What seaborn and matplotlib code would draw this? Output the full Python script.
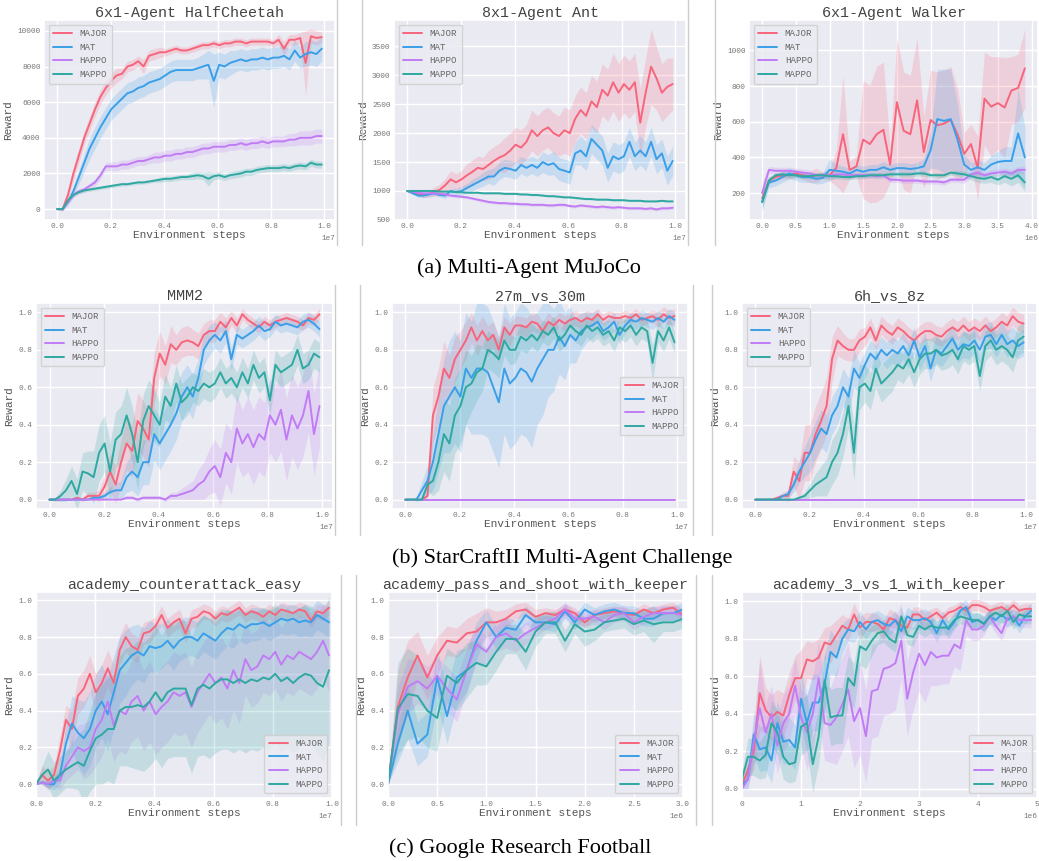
import numpy as np
import pandas as pd
import matplotlib
matplotlib.use('Agg')
import matplotlib.pyplot as plt
from matplotlib.lines import Line2D
import seaborn as sns

algos = ['MAJOR', 'MAT', 'HAPPO', 'MAPPO']
palette = {'MAJOR': '#f7657c', 'MAT': '#3a9fe8', 'HAPPO': '#c17cf5', 'MAPPO': '#2ea8a1'}

# ---------------- (a) Multi-Agent MuJoCo ----------------
cheetah_steps = np.linspace(0, 0.99e7, 50)
cheetah_major = [0, 0, 800, 2000, 3000, 4000, 4800, 5600, 6300, 6800,
                 7200, 7500, 7600, 8000, 8100, 8300, 8000, 8600, 8700, 8800,
                 8800, 8900, 9000, 8900, 8900, 9000, 9100, 9200, 9200, 9300,
                 9200, 9300, 9300, 9400, 9400, 9300, 9400, 9400, 9400, 9400,
                 9300, 9500, 9000, 9500, 9500, 9600, 8200, 9700, 9600, 9650]
cheetah_major_sd = [0, 100, 300, 400, 400, 400, 400, 400, 400, 400,
                    400, 400, 300, 300, 300, 300, 400, 300, 300, 300,
                    200, 200, 200, 200, 200, 200, 200, 200, 200, 200,
                    200, 200, 200, 200, 200, 200, 200, 200, 200, 200,
                    200, 300, 400, 300, 300, 300, 1800, 400, 400, 300]
cheetah_mat = [0, 0, 400, 1000, 1800, 2600, 3400, 4000, 4600, 5100,
               5600, 5900, 6200, 6500, 6600, 6800, 6900, 7100, 7200, 7300,
               7500, 7700, 7800, 7800, 7800, 7800, 7900, 8000, 8100, 7200,
               8100, 8000, 8200, 8300, 8400, 8300, 8400, 8400, 8500, 8400,
               8500, 8500, 8600, 8400, 8900, 8500, 8700, 8800, 8700, 9000]
cheetah_mat_sd = [0, 100, 200, 300, 400, 500, 600, 600, 600, 600,
                  600, 600, 600, 600, 600, 600, 600, 600, 600, 600,
                  600, 600, 600, 600, 600, 600, 600, 700, 800, 1500,
                  700, 700, 700, 600, 600, 600, 600, 600, 600, 600,
                  600, 600, 600, 600, 600, 600, 700, 700, 700, 700]
cheetah_happo = [0, 0, 400, 800, 1000, 1100, 1300, 1500, 1900, 2400,
                 2400, 2400, 2500, 2500, 2600, 2700, 2700, 2800, 2900, 2900,
                 3000, 3000, 3100, 3100, 3200, 3200, 3300, 3400, 3400, 3500,
                 3500, 3500, 3600, 3600, 3700, 3600, 3700, 3700, 3800, 3700,
                 3800, 3800, 3800, 3900, 3900, 4000, 4000, 4000, 4100, 4100]
cheetah_happo_sd = [0, 50, 100, 150, 150, 150, 150, 200, 200, 200,
                    250, 250, 250, 250, 250, 250, 250, 250, 300, 300,
                    300, 300, 300, 300, 300, 300, 300, 300, 300, 300,
                    300, 300, 300, 300, 300, 300, 300, 300, 300, 300,
                    300, 300, 300, 350, 350, 400, 400, 400, 400, 400]
cheetah_mappo = [0, 0, 500, 800, 950, 1050, 1100, 1150, 1200, 1250,
                 1300, 1350, 1400, 1400, 1450, 1500, 1500, 1550, 1600, 1650,
                 1700, 1700, 1750, 1800, 1800, 1850, 1900, 1850, 1700, 1850,
                 1900, 1800, 1900, 1950, 2000, 2100, 2100, 2200, 2250, 2300,
                 2300, 2300, 2350, 2300, 2400, 2450, 2400, 2600, 2500, 2500]
cheetah_mappo_sd = [0, 50, 100, 100, 100, 100, 100, 100, 100, 100,
                    100, 100, 100, 100, 100, 100, 100, 100, 100, 150,
                    150, 150, 150, 150, 150, 200, 200, 200, 400, 200,
                    200, 200, 200, 200, 200, 200, 200, 200, 200, 200,
                    200, 200, 200, 200, 200, 200, 200, 200, 200, 200]

ant_steps = np.linspace(0, 0.99e7, 50)
ant_major = [1000, 980, 940, 930, 950, 990, 1020, 1100, 1200, 1150,
             1200, 1270, 1330, 1400, 1380, 1450, 1520, 1580, 1620, 1700,
             1800, 1750, 1850, 2050, 1950, 2050, 2100, 2000, 1950, 2050,
             2000, 2250, 2400, 2300, 2550, 2450, 2750, 2650, 2880, 2700,
             2850, 2750, 2880, 2180, 2700, 3150, 2950, 2700, 2800, 2850]
ant_major_sd = [0, 20, 30, 40, 60, 80, 100, 120, 150, 150,
                150, 200, 200, 200, 200, 250, 250, 250, 300, 300,
                300, 300, 300, 350, 350, 350, 350, 350, 350, 400,
                400, 400, 400, 400, 450, 450, 450, 450, 500, 500,
                500, 500, 500, 600, 600, 650, 550, 500, 500, 450]
ant_mat = [1000, 960, 920, 920, 940, 960, 930, 920, 1000, 980,
           1000, 1050, 1100, 1150, 1200, 1250, 1250, 1350, 1400, 1380,
           1350, 1450, 1400, 1450, 1400, 1500, 1450, 1480, 1380, 1350,
           1320, 1650, 1700, 1600, 1900, 1800, 1700, 1400, 1600, 1550,
           1600, 1850, 1600, 1700, 1600, 1850, 1550, 1650, 1350, 1520]
ant_mat_sd = [0, 20, 30, 40, 40, 40, 40, 50, 50, 60,
              80, 80, 100, 100, 120, 120, 150, 150, 150, 150,
              150, 150, 150, 150, 150, 180, 180, 200, 200, 200,
              200, 200, 250, 250, 250, 250, 250, 250, 250, 250,
              250, 250, 250, 250, 250, 250, 250, 250, 250, 250]
ant_happo = [1000, 990, 970, 960, 960, 960, 950, 940, 920, 910,
             900, 890, 870, 850, 830, 810, 800, 790, 790, 780,
             780, 770, 770, 760, 760, 760, 750, 750, 760, 760,
             740, 730, 750, 740, 730, 720, 730, 720, 710, 720,
             710, 700, 700, 700, 690, 700, 680, 700, 700, 710]
ant_happo_sd = [25] * 50
ant_mappo = [1000, 1000, 1000, 1000, 1000, 1000, 990, 990, 990, 980,
             980, 970, 970, 970, 960, 960, 960, 960, 950, 950,
             950, 940, 940, 930, 930, 920, 910, 910, 900, 890,
             890, 880, 870, 860, 860, 850, 850, 850, 840, 840,
             840, 830, 830, 830, 820, 820, 820, 830, 820, 820]
ant_mappo_sd = [15] * 50

walker_steps = np.arange(40) * 1e5
walker_major = [170, 270, 290, 300, 300, 310, 300, 290, 300, 300,
                300, 340, 530, 330, 350, 500, 475, 530, 555, 360,
                710, 550, 530, 720, 430, 610, 580, 590, 610, 530,
                420, 475, 340, 730, 685, 705, 680, 775, 790, 900]
walker_major_sd = [20, 20, 20, 20, 20, 20, 20, 30, 40, 20,
                   30, 100, 330, 50, 60, 330, 330, 380, 380, 100,
                   360, 330, 330, 350, 200, 280, 300, 300, 300, 260,
                   120, 110, 180, 260, 280, 260, 280, 190, 190, 220]
walker_mat = [150, 260, 270, 290, 310, 300, 290, 290, 280, 285,
              330, 325, 320, 310, 330, 320, 330, 330, 345, 330,
              340, 340, 335, 340, 350, 440, 615, 605, 615, 500,
              360, 330, 345, 330, 360, 375, 380, 380, 535, 400]
walker_mat_sd = [40, 30, 30, 30, 30, 30, 30, 30, 30, 30,
                 60, 40, 30, 30, 30, 30, 30, 30, 30, 30,
                 30, 30, 30, 30, 40, 100, 280, 290, 280, 200,
                 60, 40, 40, 40, 50, 60, 80, 80, 250, 170]
walker_happo = [200, 330, 325, 325, 325, 320, 315, 310, 300, 300,
                300, 305, 305, 300, 300, 300, 300, 295, 300, 275,
                275, 270, 270, 270, 265, 265, 265, 260, 275, 275,
                275, 305, 315, 300, 310, 315, 320, 310, 330, 330]
walker_happo_sd = [60, 20, 20, 20, 20, 20, 20, 20, 15, 15,
                   15, 15, 15, 15, 15, 15, 15, 15, 15, 15,
                   15, 15, 15, 15, 15, 15, 15, 15, 15, 15,
                   20, 20, 20, 20, 20, 20, 20, 20, 20, 20]
walker_mappo = [150, 270, 300, 305, 300, 300, 295, 295, 300, 300,
                295, 295, 290, 290, 295, 295, 300, 300, 300, 305,
                305, 305, 305, 310, 310, 300, 300, 300, 315, 310,
                305, 295, 285, 280, 290, 275, 295, 280, 300, 260]
walker_mappo_sd = [50, 20, 15, 15, 15, 15, 15, 15, 15, 15,
                   15, 15, 15, 15, 15, 15, 15, 15, 15, 15,
                   15, 15, 15, 15, 15, 15, 15, 15, 15, 15,
                   20, 20, 25, 25, 30, 30, 35, 40, 40, 50]

# ---------------- (b) StarCraftII ----------------
smac_steps = np.linspace(0, 0.99e7, 50)
mmm2_major = [0, 0, 0, 0, 0, 0.01, 0.0, 0.02, 0.02, 0.02,
              0.07, 0.15, 0.08, 0.2, 0.3, 0.26, 0.42, 0.38, 0.32, 0.65,
              0.78, 0.72, 0.83, 0.8, 0.84, 0.85, 0.84, 0.82, 0.88, 0.9,
              0.9, 0.95, 0.92, 0.97, 0.93, 0.99, 0.96, 0.94, 0.92, 0.95,
              0.93, 0.95, 0.96, 0.97, 0.96, 0.95, 0.93, 0.97, 0.96, 0.99]
mmm2_major_sd = [0, 0, 0, 0, 0, 0.01, 0.01, 0.02, 0.02, 0.03,
                 0.06, 0.1, 0.1, 0.12, 0.14, 0.14, 0.15, 0.15, 0.15, 0.14,
                 0.12, 0.1, 0.1, 0.08, 0.08, 0.08, 0.07, 0.07, 0.06, 0.06,
                 0.06, 0.05, 0.05, 0.04, 0.04, 0.03, 0.03, 0.03, 0.03, 0.03,
                 0.03, 0.03, 0.03, 0.03, 0.03, 0.03, 0.03, 0.03, 0.03, 0.03]
mmm2_mat = [0, 0, 0, 0, 0, 0, 0, 0, 0.01, 0.01,
            0.02, 0.04, 0.05, 0.05, 0.12, 0.15, 0.12, 0.2, 0.2, 0.35,
            0.3, 0.35, 0.4, 0.46, 0.55, 0.6, 0.55, 0.65, 0.8, 0.85,
            0.88, 0.85, 0.9, 0.75, 0.88, 0.86, 0.88, 0.9, 0.93, 0.9,
            0.91, 0.95, 0.93, 0.94, 0.93, 0.92, 0.95, 0.96, 0.94, 0.91]
mmm2_mat_sd = [0, 0, 0, 0, 0, 0, 0, 0, 0.01, 0.01,
               0.02, 0.03, 0.04, 0.05, 0.08, 0.1, 0.1, 0.12, 0.12, 0.14,
               0.14, 0.14, 0.14, 0.14, 0.13, 0.12, 0.12, 0.1, 0.08, 0.08,
               0.07, 0.07, 0.06, 0.06, 0.05, 0.05, 0.05, 0.05, 0.05, 0.05,
               0.04, 0.04, 0.04, 0.04, 0.04, 0.04, 0.04, 0.04, 0.04, 0.04]
mmm2_happo = [0, 0, 0, 0, 0, 0, 0, 0, 0, 0,
              0, 0, 0, 0, 0.01, 0.01, 0.0, 0.01, 0.01, 0.01,
              0.01, 0.0, 0.02, 0.02, 0.03, 0.04, 0.05, 0.08, 0.1, 0.15,
              0.18, 0.12, 0.25, 0.2, 0.38, 0.3, 0.35, 0.28, 0.35, 0.32,
              0.45, 0.4, 0.48, 0.32, 0.45, 0.38, 0.45, 0.58, 0.35, 0.5]
mmm2_happo_sd = [0, 0, 0, 0, 0, 0, 0, 0, 0, 0,
                 0, 0, 0, 0, 0.01, 0.01, 0.01, 0.01, 0.01, 0.01,
                 0.01, 0.01, 0.02, 0.02, 0.03, 0.04, 0.05, 0.08, 0.1, 0.12,
                 0.14, 0.15, 0.16, 0.17, 0.18, 0.18, 0.2, 0.2, 0.2, 0.2,
                 0.2, 0.2, 0.22, 0.22, 0.22, 0.22, 0.22, 0.22, 0.22, 0.22]
mmm2_mappo = [0, 0, 0.02, 0.05, 0.1, 0.03, 0.15, 0.14, 0.12, 0.25,
              0.3, 0.15, 0.32, 0.35, 0.45, 0.35, 0.2, 0.42, 0.5, 0.45,
              0.4, 0.55, 0.5, 0.62, 0.52, 0.55, 0.6, 0.58, 0.62, 0.6,
              0.62, 0.68, 0.62, 0.65, 0.6, 0.68, 0.62, 0.72, 0.65, 0.68,
              0.53, 0.72, 0.68, 0.7, 0.72, 0.8, 0.7, 0.72, 0.78, 0.76]
mmm2_mappo_sd = [0, 0.01, 0.03, 0.06, 0.08, 0.08, 0.1, 0.12, 0.14, 0.15,
                 0.15, 0.15, 0.15, 0.15, 0.15, 0.15, 0.15, 0.14, 0.14, 0.14,
                 0.12, 0.12, 0.1, 0.1, 0.1, 0.1, 0.08, 0.08, 0.08, 0.08,
                 0.08, 0.08, 0.08, 0.08, 0.08, 0.08, 0.08, 0.08, 0.08, 0.08,
                 0.08, 0.08, 0.08, 0.08, 0.08, 0.08, 0.08, 0.08, 0.08, 0.08]

m27_major = [0, 0, 0, 0, 0.02, 0.45, 0.55, 0.7, 0.65, 0.75,
             0.8, 0.85, 0.92, 0.85, 0.9, 0.85, 0.88, 0.8, 0.92, 0.88,
             0.93, 0.93, 0.92, 0.95, 0.94, 0.9, 0.95, 0.93, 0.96, 0.94,
             0.96, 0.97, 0.95, 0.97, 0.96, 0.99, 0.96, 0.98, 0.97, 0.97,
             0.98, 0.97, 0.99, 0.96, 0.97, 0.98, 0.96, 0.99, 0.97, 0.98]
m27_major_sd = [0, 0, 0, 0, 0.02, 0.15, 0.15, 0.15, 0.12, 0.12,
                0.1, 0.1, 0.08, 0.08, 0.08, 0.08, 0.07, 0.07, 0.06, 0.06,
                0.05, 0.05, 0.05, 0.05, 0.05, 0.05, 0.05, 0.04, 0.04, 0.04,
                0.04, 0.04, 0.04, 0.04, 0.04, 0.03, 0.03, 0.03, 0.03, 0.03,
                0.03, 0.03, 0.03, 0.03, 0.03, 0.03, 0.04, 0.04, 0.04, 0.04]
m27_mat = [0, 0, 0, 0.05, 0.1, 0.2, 0.35, 0.5, 0.55, 0.6,
           0.55, 0.7, 0.65, 0.7, 0.7, 0.68, 0.6, 0.52, 0.7, 0.62,
           0.65, 0.7, 0.68, 0.63, 0.7, 0.75, 0.8, 0.8, 0.87, 0.82,
           0.88, 0.85, 0.9, 0.92, 0.93, 0.95, 0.9, 0.92, 0.95, 0.88,
           0.93, 0.96, 0.95, 0.97, 0.96, 0.95, 0.97, 0.95, 0.98, 0.96]
m27_mat_sd = [0, 0, 0.01, 0.05, 0.08, 0.15, 0.2, 0.25, 0.3, 0.3,
              0.3, 0.3, 0.3, 0.35, 0.35, 0.35, 0.35, 0.35, 0.35, 0.35,
              0.35, 0.35, 0.35, 0.35, 0.3, 0.3, 0.25, 0.22, 0.2, 0.18,
              0.15, 0.12, 0.1, 0.08, 0.07, 0.06, 0.05, 0.05, 0.05, 0.05,
              0.04, 0.04, 0.04, 0.04, 0.04, 0.04, 0.04, 0.04, 0.04, 0.04]
m27_happo = [0.0] * 50
m27_happo_sd = [0.0] * 50
m27_mappo = [0, 0, 0, 0, 0.08, 0.1, 0.2, 0.35, 0.3, 0.45,
             0.5, 0.6, 0.62, 0.68, 0.7, 0.8, 0.78, 0.75, 0.85, 0.8,
             0.8, 0.87, 0.85, 0.88, 0.85, 0.9, 0.88, 0.92, 0.85, 0.88,
             0.93, 0.9, 0.88, 0.93, 0.9, 0.92, 0.88, 0.9, 0.85, 0.92,
             0.9, 0.93, 0.88, 0.92, 0.9, 0.73, 0.9, 0.85, 0.92, 0.84]
m27_mappo_sd = [0, 0, 0, 0, 0.03, 0.08, 0.15, 0.2, 0.2, 0.2,
                0.2, 0.2, 0.15, 0.15, 0.12, 0.1, 0.1, 0.1, 0.08, 0.08,
                0.07, 0.07, 0.07, 0.06, 0.06, 0.06, 0.06, 0.06, 0.06, 0.06,
                0.06, 0.06, 0.06, 0.06, 0.06, 0.06, 0.06, 0.06, 0.06, 0.06,
                0.06, 0.06, 0.06, 0.06, 0.06, 0.1, 0.06, 0.06, 0.06, 0.06]

h6_major = [0, 0, 0, 0, 0.01, 0.02, 0.02, 0.15, 0.1, 0.25,
            0.25, 0.35, 0.42, 0.5, 0.75, 0.85, 0.82, 0.8, 0.8, 0.85,
            0.87, 0.92, 0.85, 0.93, 0.9, 0.88, 0.92, 0.9, 0.87, 0.85,
            0.88, 0.9, 0.9, 0.88, 0.87, 0.9, 0.92, 0.9, 0.93, 0.9,
            0.92, 0.9, 0.93, 0.9, 0.92, 0.95, 0.93, 0.98, 0.95, 0.94]
h6_major_sd = [0, 0, 0, 0, 0.01, 0.02, 0.03, 0.08, 0.1, 0.15,
               0.15, 0.15, 0.15, 0.15, 0.12, 0.08, 0.07, 0.06, 0.06, 0.06,
               0.05, 0.05, 0.05, 0.05, 0.05, 0.05, 0.05, 0.05, 0.05, 0.05,
               0.05, 0.05, 0.05, 0.05, 0.05, 0.05, 0.05, 0.05, 0.05, 0.05,
               0.05, 0.05, 0.05, 0.05, 0.05, 0.05, 0.05, 0.05, 0.05, 0.05]
h6_mat = [0, 0, 0, 0, 0, 0.02, 0.03, 0.08, 0.15, 0.2,
          0.25, 0.32, 0.38, 0.35, 0.45, 0.5, 0.6, 0.55, 0.7, 0.65,
          0.72, 0.78, 0.75, 0.8, 0.77, 0.8, 0.78, 0.82, 0.77, 0.85,
          0.76, 0.82, 0.7, 0.8, 0.78, 0.82, 0.86, 0.8, 0.83, 0.82,
          0.85, 0.8, 0.87, 0.88, 0.83, 0.88, 0.83, 0.85, 0.82, 0.84]
h6_mat_sd = [0, 0, 0, 0, 0, 0.01, 0.02, 0.04, 0.06, 0.08,
             0.1, 0.1, 0.1, 0.1, 0.1, 0.1, 0.1, 0.1, 0.1, 0.08,
             0.07, 0.07, 0.07, 0.07, 0.07, 0.07, 0.07, 0.07, 0.07, 0.07,
             0.07, 0.07, 0.07, 0.07, 0.07, 0.07, 0.07, 0.07, 0.07, 0.07,
             0.07, 0.07, 0.07, 0.07, 0.07, 0.07, 0.07, 0.07, 0.07, 0.07]
h6_happo = [0.0] * 50
h6_happo_sd = [0.0] * 50
h6_mappo = [0, 0, 0, 0, 0, 0, 0, 0, 0.01, 0.02,
            0.05, 0.08, 0.1, 0.12, 0.2, 0.25, 0.35, 0.5, 0.25, 0.6,
            0.62, 0.58, 0.7, 0.62, 0.65, 0.68, 0.72, 0.7, 0.75, 0.68,
            0.75, 0.78, 0.78, 0.8, 0.77, 0.78, 0.8, 0.75, 0.82, 0.8,
            0.82, 0.66, 0.82, 0.85, 0.8, 0.82, 0.8, 0.76, 0.85, 0.87]
h6_mappo_sd = [0, 0, 0, 0, 0, 0, 0, 0, 0.01, 0.02,
               0.04, 0.06, 0.08, 0.1, 0.12, 0.12, 0.12, 0.12, 0.15, 0.12,
               0.1, 0.1, 0.1, 0.1, 0.1, 0.1, 0.08, 0.08, 0.08, 0.08,
               0.08, 0.08, 0.08, 0.08, 0.08, 0.08, 0.08, 0.08, 0.08, 0.08,
               0.08, 0.08, 0.08, 0.08, 0.08, 0.08, 0.08, 0.08, 0.08, 0.08]

# ---------------- (c) Google Research Football ----------------
ca_steps = np.linspace(0, 0.99e7, 50)
ca_major = [0, 0.05, 0.02, 0.05, 0.18, 0.35, 0.3, 0.48, 0.52, 0.6,
            0.5, 0.55, 0.63, 0.55, 0.73, 0.8, 0.75, 0.73, 0.82, 0.83,
            0.86, 0.92, 0.85, 0.88, 0.9, 0.82, 0.9, 0.91, 0.94, 0.93,
            0.9, 0.93, 0.92, 0.94, 0.96, 0.92, 0.94, 0.93, 0.91, 0.94,
            0.92, 0.95, 0.94, 0.93, 0.95, 0.94, 0.89, 0.94, 0.93, 0.96]
ca_major_sd = [0, 0.05, 0.05, 0.05, 0.08, 0.08, 0.1, 0.1, 0.1, 0.1,
               0.1, 0.1, 0.1, 0.1, 0.08, 0.08, 0.07, 0.07, 0.06, 0.06,
               0.05, 0.05, 0.05, 0.05, 0.05, 0.05, 0.05, 0.05, 0.04, 0.04,
               0.04, 0.04, 0.04, 0.04, 0.04, 0.04, 0.04, 0.04, 0.04, 0.04,
               0.04, 0.04, 0.04, 0.04, 0.04, 0.04, 0.04, 0.04, 0.04, 0.04]
ca_mat = [0, 0.01, 0, 0, 0.05, 0.22, 0.33, 0.28, 0.25, 0.3,
          0.4, 0.45, 0.38, 0.5, 0.62, 0.66, 0.7, 0.72, 0.7, 0.75,
          0.74, 0.75, 0.78, 0.74, 0.78, 0.8, 0.8, 0.78, 0.82, 0.8,
          0.78, 0.82, 0.85, 0.84, 0.87, 0.85, 0.87, 0.87, 0.88, 0.86,
          0.88, 0.9, 0.89, 0.9, 0.88, 0.89, 0.88, 0.92, 0.9, 0.88]
ca_mat_sd = [0, 0.01, 0.02, 0.03, 0.05, 0.1, 0.15, 0.18, 0.2, 0.2,
             0.2, 0.2, 0.2, 0.2, 0.18, 0.18, 0.16, 0.15, 0.15, 0.14,
             0.13, 0.12, 0.12, 0.12, 0.11, 0.11, 0.1, 0.1, 0.1, 0.1,
             0.1, 0.1, 0.1, 0.1, 0.09, 0.09, 0.09, 0.09, 0.08, 0.08,
             0.08, 0.08, 0.08, 0.08, 0.08, 0.08, 0.08, 0.08, 0.08, 0.08]
ca_happo = [0, 0.01, 0, 0.02, 0.02, 0.1, 0.15, 0.2, 0.18, 0.2,
            0.3, 0.35, 0.45, 0.32, 0.4, 0.38, 0.45, 0.48, 0.4, 0.45,
            0.38, 0.42, 0.45, 0.5, 0.48, 0.5, 0.42, 0.5, 0.55, 0.6,
            0.55, 0.58, 0.52, 0.62, 0.55, 0.68, 0.62, 0.64, 0.7, 0.68,
            0.72, 0.65, 0.7, 0.68, 0.72, 0.7, 0.68, 0.72, 0.78, 0.7]
ca_happo_sd = [0, 0.01, 0.02, 0.03, 0.05, 0.08, 0.1, 0.12, 0.15, 0.15,
               0.2, 0.2, 0.2, 0.2, 0.22, 0.22, 0.22, 0.22, 0.22, 0.22,
               0.22, 0.22, 0.22, 0.22, 0.22, 0.22, 0.22, 0.22, 0.22, 0.22,
               0.22, 0.22, 0.22, 0.22, 0.22, 0.2, 0.2, 0.2, 0.2, 0.2,
               0.2, 0.2, 0.2, 0.2, 0.2, 0.2, 0.2, 0.2, 0.2, 0.2]
ca_mappo = [0, 0.05, 0.08, 0.02, 0.05, 0.08, 0.1, 0.12, 0.1, 0.18,
            0.25, 0.27, 0.3, 0.3, 0.4, 0.42, 0.42, 0.43, 0.42, 0.45,
            0.5, 0.45, 0.5, 0.52, 0.52, 0.52, 0.43, 0.52, 0.54, 0.52,
            0.55, 0.57, 0.57, 0.55, 0.57, 0.55, 0.57, 0.56, 0.58, 0.57,
            0.6, 0.56, 0.58, 0.55, 0.58, 0.6, 0.59, 0.55, 0.53, 0.62]
ca_mappo_sd = [0, 0.05, 0.1, 0.1, 0.1, 0.1, 0.12, 0.15, 0.2, 0.22,
               0.25, 0.27, 0.28, 0.3, 0.3, 0.32, 0.33, 0.35, 0.35, 0.35,
               0.36, 0.36, 0.36, 0.37, 0.37, 0.37, 0.37, 0.37, 0.38, 0.38,
               0.38, 0.38, 0.38, 0.38, 0.38, 0.38, 0.38, 0.38, 0.38, 0.38,
               0.38, 0.38, 0.38, 0.38, 0.38, 0.38, 0.38, 0.38, 0.4, 0.4]

ps_steps = np.arange(31) * 1e5
ps_major = [0.0, 0.42, 0.58, 0.7, 0.58, 0.7, 0.78, 0.77, 0.82, 0.83,
            0.88, 0.88, 0.9, 0.94, 0.95, 0.91, 0.93, 0.92, 0.95, 0.93,
            0.88, 0.92, 0.93, 0.94, 0.93, 0.92, 0.95, 0.93, 0.95, 0.96, 0.92]
ps_major_sd = [0, 0.2, 0.2, 0.13, 0.12, 0.1, 0.08, 0.08, 0.08, 0.1,
               0.08, 0.06, 0.05, 0.04, 0.04, 0.04, 0.03, 0.03, 0.03, 0.03,
               0.03, 0.03, 0.03, 0.03, 0.03, 0.03, 0.03, 0.03, 0.03, 0.03, 0.03]
ps_mat = [0.0, 0.22, 0.4, 0.22, 0.27, 0.58, 0.37, 0.58, 0.62, 0.78,
          0.88, 0.8, 0.85, 0.84, 0.92, 0.88, 0.88, 0.87, 0.94, 0.88,
          0.95, 0.92, 0.94, 0.95, 0.93, 0.93, 0.9, 0.9, 0.93, 0.93, 0.95]
ps_mat_sd = [0, 0.1, 0.15, 0.12, 0.12, 0.15, 0.15, 0.15, 0.12, 0.1,
             0.07, 0.06, 0.06, 0.05, 0.05, 0.04, 0.04, 0.04, 0.04, 0.04,
             0.04, 0.04, 0.04, 0.04, 0.04, 0.04, 0.04, 0.04, 0.04, 0.04, 0.04]
ps_happo = [0.0, 0.38, 0.53, 0.56, 0.52, 0.59, 0.52, 0.46, 0.62, 0.76,
            0.72, 0.8, 0.82, 0.78, 0.82, 0.85, 0.88, 0.9, 0.95, 0.9,
            0.9, 0.91, 0.88, 0.92, 0.93, 0.88, 0.91, 0.93, 0.93, 0.93, 0.92]
ps_happo_sd = [0, 0.15, 0.15, 0.12, 0.12, 0.1, 0.12, 0.12, 0.12, 0.1,
               0.08, 0.08, 0.08, 0.06, 0.06, 0.05, 0.04, 0.04, 0.04, 0.04,
               0.04, 0.04, 0.04, 0.04, 0.04, 0.04, 0.04, 0.04, 0.04, 0.04, 0.04]
ps_mappo = [0.0, 0.41, 0.49, 0.48, 0.4, 0.36, 0.59, 0.55, 0.62, 0.66,
            0.64, 0.72, 0.79, 0.79, 0.72, 0.83, 0.88, 0.88, 0.78, 0.87,
            0.83, 0.84, 0.88, 0.89, 0.9, 0.87, 0.89, 0.87, 0.88, 0.88, 0.9]
ps_mappo_sd = [0, 0.25, 0.25, 0.22, 0.2, 0.18, 0.15, 0.15, 0.15, 0.12,
               0.1, 0.1, 0.08, 0.08, 0.1, 0.08, 0.06, 0.06, 0.06, 0.05,
               0.08, 0.06, 0.05, 0.05, 0.05, 0.06, 0.06, 0.1, 0.05, 0.05, 0.05]

k3_steps = np.arange(50) * 1e5
k3_major = [0.02, 0.1, 0.2, 0.51, 0.42, 0.38, 0.41, 0.39, 0.5, 0.59,
            0.59, 0.69, 0.68, 0.7, 0.78, 0.77, 0.82, 0.87, 0.85, 0.93,
            0.86, 0.89, 0.89, 0.88, 0.85, 0.91, 0.9, 0.87, 0.86, 0.93,
            0.93, 0.9, 0.92, 0.94, 0.91, 0.94, 0.95, 0.97, 0.95, 0.98,
            0.98, 0.97, 0.95, 0.96, 0.97, 0.95, 0.98, 0.95, 0.96, 0.96]
k3_major_sd = [0.02, 0.05, 0.1, 0.2, 0.12, 0.12, 0.12, 0.12, 0.12, 0.12,
               0.15, 0.1, 0.1, 0.1, 0.08, 0.1, 0.08, 0.06, 0.06, 0.06,
               0.06, 0.05, 0.05, 0.05, 0.05, 0.05, 0.04, 0.04, 0.04, 0.04,
               0.04, 0.04, 0.04, 0.03, 0.03, 0.03, 0.03, 0.03, 0.03, 0.03,
               0.03, 0.03, 0.03, 0.03, 0.03, 0.03, 0.03, 0.03, 0.03, 0.03]
k3_mat = [0.02, 0.05, 0.29, 0.21, 0.22, 0.15, 0.35, 0.25, 0.26, 0.22,
          0.48, 0.35, 0.46, 0.46, 0.56, 0.73, 0.7, 0.8, 0.85, 0.84,
          0.89, 0.85, 0.89, 0.9, 0.88, 0.87, 0.9, 0.84, 0.92, 0.9,
          0.9, 0.91, 0.89, 0.83, 0.9, 0.85, 0.89, 0.95, 0.97, 0.89,
          0.9, 0.88, 0.92, 0.9, 0.93, 0.9, 0.92, 0.87, 0.92, 0.95]
k3_mat_sd = [0.02, 0.05, 0.12, 0.12, 0.12, 0.12, 0.12, 0.12, 0.12, 0.12,
             0.15, 0.15, 0.15, 0.15, 0.15, 0.12, 0.1, 0.08, 0.06, 0.06,
             0.06, 0.05, 0.05, 0.05, 0.05, 0.05, 0.05, 0.05, 0.05, 0.05,
             0.05, 0.05, 0.05, 0.05, 0.05, 0.05, 0.04, 0.04, 0.04, 0.04,
             0.04, 0.04, 0.04, 0.04, 0.04, 0.04, 0.04, 0.04, 0.04, 0.04]
k3_happo = [0.0, 0.05, 0.25, 0.43, 0.3, 0.4, 0.23, 0.35, 0.4, 0.55,
            0.38, 0.3, 0.4, 0.59, 0.35, 0.34, 0.38, 0.45, 0.53, 0.36,
            0.43, 0.28, 0.52, 0.53, 0.64, 0.65, 0.67, 0.79, 0.48, 0.62,
            0.72, 0.66, 0.73, 0.7, 0.71, 0.71, 0.77, 0.75, 0.9, 0.85,
            0.85, 0.87, 0.92, 0.87, 0.83, 0.91, 0.92, 0.9, 0.9, 0.9]
k3_happo_sd = [0, 0.05, 0.12, 0.25, 0.15, 0.15, 0.15, 0.15, 0.15, 0.15,
               0.15, 0.2, 0.2, 0.2, 0.2, 0.2, 0.25, 0.25, 0.25, 0.25,
               0.25, 0.25, 0.25, 0.25, 0.25, 0.25, 0.25, 0.2, 0.2, 0.2,
               0.2, 0.2, 0.18, 0.15, 0.15, 0.15, 0.12, 0.12, 0.08, 0.06,
               0.06, 0.05, 0.04, 0.04, 0.04, 0.04, 0.04, 0.04, 0.04, 0.04]
k3_mappo = [0.05, 0.17, 0.17, 0.15, 0.18, 0.35, 0.3, 0.17, 0.13, 0.14,
            0.33, 0.35, 0.13, 0.28, 0.58, 0.38, 0.39, 0.39, 0.59, 0.55,
            0.76, 0.74, 0.79, 0.83, 0.84, 0.8, 0.78, 0.92, 0.82, 0.81,
            0.87, 0.85, 0.87, 0.86, 0.86, 0.86, 0.9, 0.92, 0.91, 0.9,
            0.9, 0.88, 0.92, 0.94, 0.92, 0.95, 0.89, 0.93, 0.92, 0.92]
k3_mappo_sd = [0.05, 0.1, 0.1, 0.1, 0.12, 0.12, 0.12, 0.12, 0.1, 0.1,
               0.15, 0.15, 0.15, 0.15, 0.15, 0.15, 0.15, 0.15, 0.12, 0.12,
               0.1, 0.1, 0.08, 0.06, 0.06, 0.05, 0.05, 0.05, 0.05, 0.05,
               0.04, 0.04, 0.04, 0.04, 0.04, 0.04, 0.04, 0.04, 0.04, 0.04,
               0.04, 0.04, 0.04, 0.04, 0.04, 0.04, 0.04, 0.04, 0.04, 0.04]

panels = [
    ('6x1-Agent HalfCheetah', cheetah_steps,
     [cheetah_major, cheetah_mat, cheetah_happo, cheetah_mappo],
     [cheetah_major_sd, cheetah_mat_sd, cheetah_happo_sd, cheetah_mappo_sd], 'upper left', None, None),
    ('8x1-Agent Ant', ant_steps,
     [ant_major, ant_mat, ant_happo, ant_mappo],
     [ant_major_sd, ant_mat_sd, ant_happo_sd, ant_mappo_sd], 'upper left', None, None),
    ('6x1-Agent Walker', walker_steps,
     [walker_major, walker_mat, walker_happo, walker_mappo],
     [walker_major_sd, walker_mat_sd, walker_happo_sd, walker_mappo_sd], 'upper left', None, None),
    ('MMM2', smac_steps,
     [mmm2_major, mmm2_mat, mmm2_happo, mmm2_mappo],
     [mmm2_major_sd, mmm2_mat_sd, mmm2_happo_sd, mmm2_mappo_sd], 'upper left', None, (-0.05, 1.05)),
    ('27m_vs_30m', smac_steps,
     [m27_major, m27_mat, m27_happo, m27_mappo],
     [m27_major_sd, m27_mat_sd, m27_happo_sd, m27_mappo_sd], 'center right', None, (-0.05, 1.05)),
    ('6h_vs_8z', smac_steps,
     [h6_major, h6_mat, h6_happo, h6_mappo],
     [h6_major_sd, h6_mat_sd, h6_happo_sd, h6_mappo_sd], 'upper left', None, (-0.05, 1.05)),
    ('academy_counterattack_easy', ca_steps,
     [ca_major, ca_mat, ca_happo, ca_mappo],
     [ca_major_sd, ca_mat_sd, ca_happo_sd, ca_mappo_sd], 'lower right', (0, 1e7), (-0.075, 1.045)),
    ('academy_pass_and_shoot_with_keeper', ps_steps,
     [ps_major, ps_mat, ps_happo, ps_mappo],
     [ps_major_sd, ps_mat_sd, ps_happo_sd, ps_mappo_sd], 'lower right', (0, 3e6), (-0.075, 1.045)),
    ('academy_3_vs_1_with_keeper', k3_steps,
     [k3_major, k3_mat, k3_happo, k3_mappo],
     [k3_major_sd, k3_mat_sd, k3_happo_sd, k3_mappo_sd], 'lower right', (0, 5e6), (-0.05, 1.05)),
]

# axes boxes in pixels: left, top, right, bottom
boxes = [
    (44, 20, 335, 220), (394, 20, 686, 220), (749, 20, 1038, 220),
    (36, 303, 333, 509), (392, 303, 688, 509), (742, 303, 1037, 509),
    (36, 592, 332, 798), (388, 592, 683, 798), (742, 592, 1037, 798),
]

W, H = 1039, 861
sns.set_theme(style='darkgrid')
plt.rcParams['font.family'] = ['Liberation Mono', 'DejaVu Sans']

fig = plt.figure(figsize=(W / 100, H / 100), dpi=100)

for (title, steps, means, sds, loc, xlim, ylim), (l, t, r, b) in zip(panels, boxes):
    ax = fig.add_axes([l / W, 1 - b / H, (r - l) / W, (b - t) / H])
    frames = []
    for algo, m in zip(algos, means):
        frames.append(pd.DataFrame({'steps': steps, 'reward': m, 'algo': algo}))
    df = pd.concat(frames, ignore_index=True)
    for algo, m, s in zip(algos, means, sds):
        m = np.array(m, dtype=float)
        s = np.array(s, dtype=float)
        ax.fill_between(steps, m - s, m + s, color=palette[algo], alpha=0.2, lw=0)
    sns.lineplot(data=df, x='steps', y='reward', hue='algo', palette=palette,
                 hue_order=algos, ax=ax, linewidth=1.4, errorbar=None)
    if xlim is not None:
        ax.set_xlim(*xlim)
    if ylim is not None:
        ax.set_ylim(*ylim)
    ax.set_title(title, fontsize=10.8, color='#444444', pad=2)
    ax.set_xlabel('Environment steps', fontsize=8, color='#555555', labelpad=0)
    ax.set_ylabel('Reward', fontsize=8, color='#555555', labelpad=3)
    ax.tick_params(labelsize=5.6, colors='#777777', length=0, pad=2.5)
    ax.xaxis.get_offset_text().set_fontsize(5.6)
    ax.xaxis.get_offset_text().set_color('#777777')
    sns.move_legend(ax, loc, title=None, fontsize=6.6, handlelength=2.1,
                    labelcolor='#666666', borderpad=0.5)

# separators between sub-images
seps = [(337, 0, 245), (362, 0, 245), (688, 0, 245), (715, 0, 245),
        (335, 285, 535), (360, 285, 535), (693, 285, 535), (712, 285, 535),
        (341, 575, 825), (356, 575, 825), (696, 575, 825), (712, 575, 825)]
for x, y0, y1 in seps:
    fig.add_artist(Line2D([x / W, x / W], [1 - y0 / H, 1 - y1 / H], color='#cccccc', lw=1))

captions = [('(a) Multi-Agent MuJoCo', 529, 268),
            ('(b) StarCraftII Multi-Agent Challenge', 562, 558),
            ('(c) Google Research Football', 520, 848)]
for text, x, y in captions:
    fig.text(x / W, 1 - y / H, text, ha='center', va='center',
             family='Liberation Serif', fontsize=16, color='black')

fig.savefig('out.png', dpi=100, facecolor='white')
